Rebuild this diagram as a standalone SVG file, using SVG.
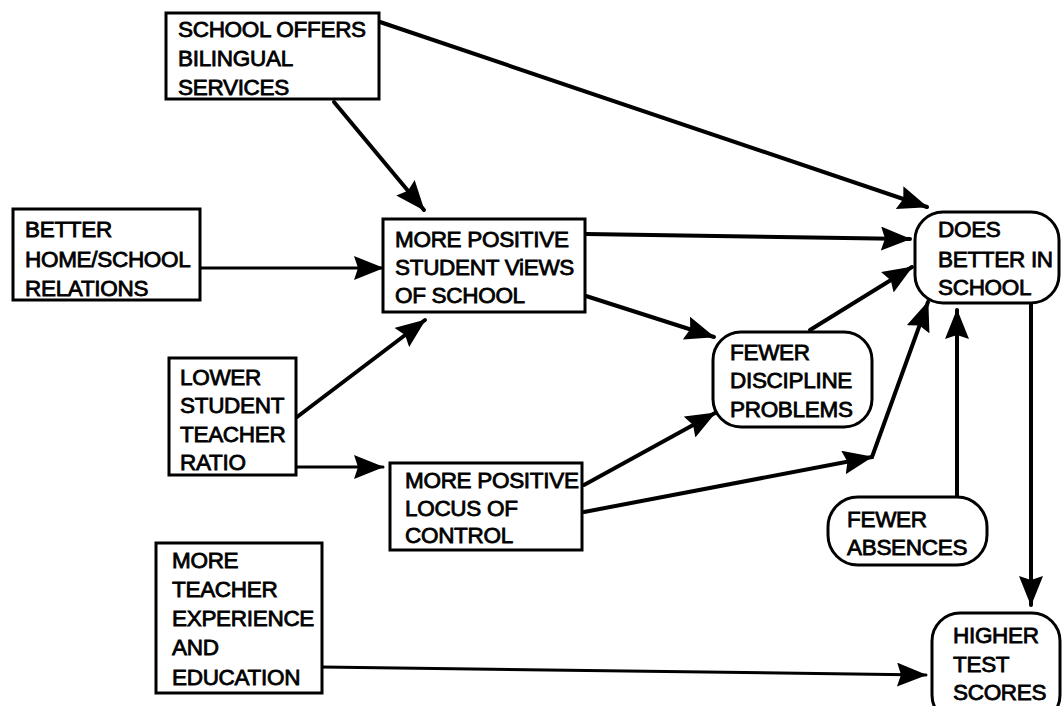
<svg xmlns="http://www.w3.org/2000/svg" width="1062" height="706" viewBox="0 0 1062 706">
  <style>
    .box { fill: #fff; stroke: #000; stroke-width: 3; }
    .lbl { font-family: "Liberation Sans", Arial, sans-serif; font-size: 22.5px; letter-spacing: -0.3px; fill: #000; stroke: #000; stroke-width: 0.8; }
    .edge { fill: none; stroke: #000; stroke-width: 4; stroke-linecap: round; stroke-linejoin: round; }
    .arrow { marker-end: url(#head); }
  </style>
  <defs>
    <marker id="head" markerUnits="userSpaceOnUse" markerWidth="30" markerHeight="24" refX="29" refY="12" orient="auto">
      <path d="M0,0 L30,12 L0,24 L4,12 Z" fill="#000"/>
    </marker>
  </defs>
  <rect width="1062" height="706" fill="#fff"/>

  <!-- connectors -->
  <g id="connectors">
    <line class="edge arrow" x1="380" y1="22" x2="927" y2="207"/>
    <line class="edge arrow" x1="334" y1="102" x2="424" y2="210"/>
    <line class="edge arrow" x1="197" y1="268" x2="383" y2="268" style="stroke-width:3"/>
    <line class="edge arrow" x1="586" y1="234" x2="910" y2="239"/>
    <line class="edge arrow" x1="586" y1="296" x2="714" y2="337"/>
    <line class="edge arrow" x1="810" y1="330" x2="912" y2="267"/>
    <line class="edge arrow" x1="297" y1="417" x2="425" y2="320"/>
    <line class="edge arrow" x1="297" y1="467" x2="383" y2="467" style="stroke-width:3"/>
    <line class="edge arrow" x1="584" y1="485" x2="715" y2="413"/>
    <line class="edge arrow" x1="584" y1="512" x2="872" y2="457"/>
    <line class="edge arrow" x1="872" y1="457" x2="928" y2="302"/>
    <line class="edge arrow" x1="957" y1="497" x2="957" y2="310"/>
    <line class="edge arrow" x1="1031" y1="303" x2="1031" y2="605"/>
    <line class="edge arrow" x1="322" y1="667" x2="926" y2="675" style="stroke-width:3"/>
  </g>

  <g id="bilingual">
    <rect class="box" x="166" y="13" width="213" height="86"/>
    <text class="lbl" x="178" y="37">SCHOOL OFFERS</text>
    <text class="lbl" x="178" y="66">BILINGUAL</text>
    <text class="lbl" x="178" y="95">SERVICES</text>
  </g>

  <g id="home-school">
    <rect class="box" x="13" y="209" width="187" height="91"/>
    <text class="lbl" x="25" y="237">BETTER</text>
    <text class="lbl" x="25" y="267">HOME/SCHOOL</text>
    <text class="lbl" x="25" y="296">RELATIONS</text>
  </g>

  <g id="student-views">
    <rect class="box" x="383" y="219" width="202" height="93"/>
    <text class="lbl" x="395" y="247">MORE POSITIVE</text>
    <text class="lbl" x="395" y="275">STUDENT ViEWS</text>
    <text class="lbl" x="395" y="303">OF SCHOOL</text>
  </g>

  <g id="ratio">
    <rect class="box" x="169" y="358" width="127" height="117"/>
    <text class="lbl" x="180" y="385">LOWER</text>
    <text class="lbl" x="180" y="413">STUDENT</text>
    <text class="lbl" x="180" y="442">TEACHER</text>
    <text class="lbl" x="180" y="470">RATIO</text>
  </g>

  <g id="locus">
    <rect class="box" x="390" y="463" width="192" height="87"/>
    <text class="lbl" x="405" y="488">MORE POSITIVE</text>
    <text class="lbl" x="405" y="516">LOCUS OF</text>
    <text class="lbl" x="405" y="543">CONTROL</text>
  </g>

  <g id="teacher-experience">
    <rect class="box" x="156" y="543" width="166" height="150"/>
    <text class="lbl" x="172" y="568">MORE</text>
    <text class="lbl" x="172" y="597">TEACHER</text>
    <text class="lbl" x="172" y="626">EXPERIENCE</text>
    <text class="lbl" x="172" y="655">AND</text>
    <text class="lbl" x="172" y="685">EDUCATION</text>
  </g>

  <g id="does-better">
    <rect class="box" x="915" y="212" width="144" height="91" rx="28"/>
    <text class="lbl" x="938" y="237">DOES</text>
    <text class="lbl" x="938" y="267">BETTER IN</text>
    <text class="lbl" x="938" y="295">SCHOOL</text>
  </g>

  <g id="discipline">
    <rect class="box" x="713" y="332" width="159" height="95" rx="28"/>
    <text class="lbl" x="730" y="360">FEWER</text>
    <text class="lbl" x="730" y="388">DISCIPLINE</text>
    <text class="lbl" x="730" y="417">PROBLEMS</text>
  </g>

  <g id="absences">
    <rect class="box" x="828" y="497" width="159" height="68" rx="30"/>
    <text class="lbl" x="847" y="527">FEWER</text>
    <text class="lbl" x="847" y="555">ABSENCES</text>
  </g>

  <g id="test-scores">
    <rect class="box" x="932" y="613" width="128" height="110" rx="28"/>
    <text class="lbl" x="953" y="643">HIGHER</text>
    <text class="lbl" x="953" y="672">TEST</text>
    <text class="lbl" x="953" y="700">SCORES</text>
  </g>
</svg>
